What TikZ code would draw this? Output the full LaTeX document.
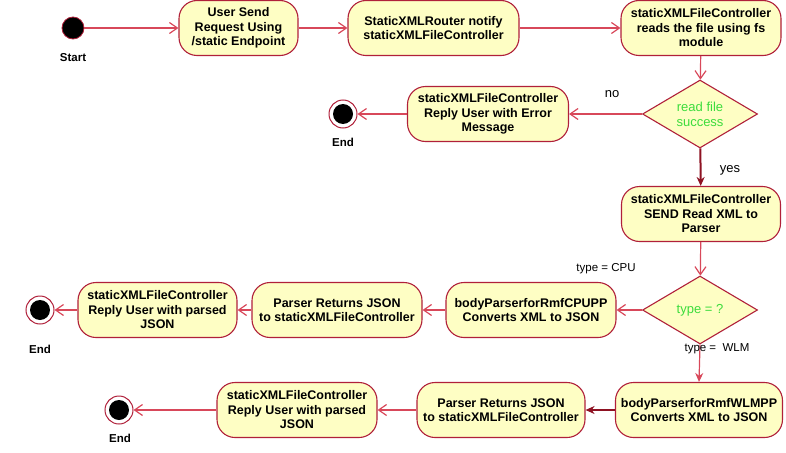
\documentclass[tikz,border=0pt]{standalone}
\usepackage{fontspec}
\setmainfont{Liberation Sans}
\usepackage{tikz}
\usetikzlibrary{shapes.geometric}
\usetikzlibrary{arrows.meta}
\definecolor{actfill}{HTML}{FEFEC4}
\definecolor{actline}{HTML}{B0203A}
\definecolor{flowred}{HTML}{D8485A}
\definecolor{flowdark}{HTML}{8E1222}
\definecolor{guardgreen}{HTML}{3CDC3C}
\tikzset{
  actbox/.style={draw=actline, fill=actfill, line width=1.1pt, rounded corners=18pt,
    minimum height=55pt, inner sep=1pt, align=center,
    font=\bfseries\fontsize{12.5}{14.5}\selectfont},
  choice/.style={diamond, aspect=1.7, draw=actline, fill=actfill, line width=1.1pt,
    minimum width=115pt, minimum height=68pt, inner sep=0pt, align=center,
    text=guardgreen, font=\fontsize{13}{15}\selectfont},
  flow/.style={draw=flowred, line width=1.2pt, -{Straight Barb[length=8pt,width=11pt]}},
  flowbold/.style={draw=flowdark, line width=2pt, -{Stealth[length=9pt,width=8pt]}},
  flowfill/.style={draw=flowred, line width=1.2pt, -{Stealth[length=9pt,width=8pt]}},
  tag/.style={inner sep=0pt, font=\fontsize{13}{15}\selectfont},
  smalltag/.style={inner sep=0pt, font=\fontsize{11.5}{13}\selectfont},
  dottag/.style={inner sep=0pt, font=\bfseries\fontsize{11.5}{13}\selectfont}
}
\newcommand{\actbox}[5]{\node[actbox, minimum width=#4pt] (#1) at ( #2 , #3 ) {#5};}
\newcommand{\startdot}[3]{\node[circle, draw=actline, fill=black, line width=0.8pt, minimum size=22pt, inner sep=0pt] (#1) at ( #2 , #3 ) {};}
\newcommand{\finaldot}[3]{\node[circle, draw=actline, fill=white, line width=1pt, minimum size=28pt, inner sep=0pt] (#1) at ( #2 , #3 ) {};
  \fill ( #2 , #3 ) circle (10);}

\begin{document}
\begin{tikzpicture}[x=1pt,y=-1pt]
\useasboundingbox (0,0) rectangle (786,452);
% row 1: request
\startdot{start}{73}{28}
\node[dottag] (startlbl) at (73,58) {Start};
\actbox{request}{238.5}{28}{119}{User Send\\Request Using\\/static Endpoint}
\actbox{notify}{433.5}{28}{171}{StaticXMLRouter notify\\staticXMLFileController}
\actbox{readfile}{701}{28}{160}{staticXMLFileController\\reads the file using fs\\module}
% row 2: read check
\node[choice] (readok) at (700,114) {read file\\success};
\actbox{errreply}{488}{114}{161}{staticXMLFileController\\Reply User with Error\\Message}
\finaldot{endone}{343}{114}
\node[dottag] (endonelbl) at (343,142) {End};
% row 3: send to parser
\actbox{toparser}{701}{214}{159}{staticXMLFileController\\SEND Read XML to\\Parser}
% row 4: cpu branch
\node[choice] (typeq) at (700,310) {type = ?};
\actbox{cpupp}{531}{310}{170}{bodyParserforRmfCPUPP\\Converts XML to JSON}
\actbox{cpujson}{337}{310}{170}{Parser Returns JSON\\to staticXMLFileController}
\actbox{cpureply}{157.5}{310}{159}{staticXMLFileController\\Reply User with parsed\\JSON}
\finaldot{endtwo}{40}{310}
\node[dottag] (endtwolbl) at (40,349) {End};
% row 5: wlm branch
\actbox{wlmpp}{699}{410}{167}{bodyParserforRmfWLMPP\\Converts XML to JSON}
\actbox{wlmjson}{501}{410}{168}{Parser Returns JSON\\to staticXMLFileController}
\actbox{wlmreply}{297}{410}{160}{staticXMLFileController\\Reply User with parsed\\JSON}
\finaldot{endthree}{119}{410}
\node[dottag] (endthreelbl) at (120,438) {End};
% connectors
\draw[flow] (start) -- (request);
\draw[flow] (request) -- (notify);
\draw[flow] (notify) -- (readfile);
\draw[flow] (readfile) -- (readok);
\draw[flow] (readok) -- (errreply);
\draw[flow] (errreply) -- (endone);
\draw[flowbold] (readok) -- (toparser);
\draw[flow] (toparser) -- (typeq);
\draw[flow] (typeq) -- (cpupp);
\draw[flow] (cpupp) -- (cpujson);
\draw[flow] (cpujson) -- (cpureply);
\draw[flow] (cpureply) -- (endtwo);
\draw[flowfill] (typeq.south) -- (wlmpp.north);
\draw[flowbold] (wlmpp) -- (wlmjson);
\draw[flow] (wlmjson) -- (wlmreply);
\draw[flow] (wlmreply) -- (endthree);
% guard labels
\node[tag] (nolbl) at (612,94) {no};
\node[tag] (yeslbl) at (730,170) {yes};
\node[smalltag] (cpulbl) at (606,269) {type = CPU};
\node[smalltag] (wlmlbl) at (717,349) {type =~ WLM};
\end{tikzpicture}
\end{document}
